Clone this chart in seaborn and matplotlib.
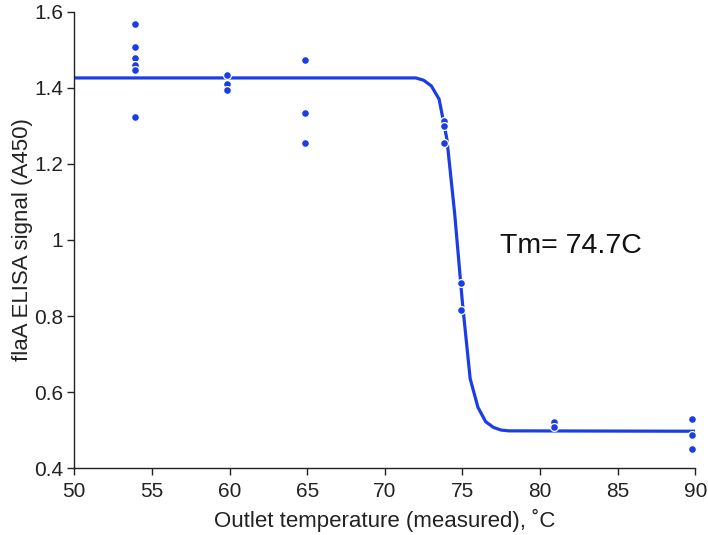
import numpy as np
import pandas as pd
import seaborn as sns
import matplotlib
matplotlib.use('Agg')
import matplotlib.pyplot as plt
from matplotlib.ticker import FuncFormatter

# measured points (outlet temperature, A450)
temp_pts = [53.9, 53.9, 53.9, 53.9, 53.9, 53.9,
            59.85, 59.85, 59.85,
            64.85, 64.85, 64.85,
            73.8, 73.8, 73.82,
            74.9, 74.9,
            80.9, 80.9,
            89.8, 89.8, 89.8]
signal_pts = [1.567, 1.507, 1.479, 1.460, 1.447, 1.322,
              1.434, 1.410, 1.394,
              1.473, 1.333, 1.254,
              1.314, 1.300, 1.254,
              0.888, 0.816,
              0.520, 0.509,
              0.530, 0.486, 0.451]

# fitted curve
fit_temp = [50, 72, 72.5, 73, 73.5, 74, 74.5, 75, 75.5, 76, 76.5, 77, 77.5, 78, 90]
fit_signal = [1.426, 1.426, 1.42, 1.405, 1.37, 1.265, 1.07, 0.835, 0.635,
              0.56, 0.522, 0.507, 0.500, 0.498, 0.497]

blue = '#1a3de6'

sns.set_style("ticks")
plt.rcParams['font.family'] = ['Liberation Sans', 'DejaVu Sans']

fig = plt.figure(figsize=(7.08, 5.35), dpi=100)
ax = fig.add_axes([0.105, 0.125, 0.877, 0.853])

df_fit = pd.DataFrame({'temp': fit_temp, 'signal': fit_signal})
df_pts = pd.DataFrame({'temp': temp_pts, 'signal': signal_pts})

sns.lineplot(data=df_fit, x='temp', y='signal', color=blue, linewidth=2.3,
             ax=ax, zorder=2)
sns.scatterplot(data=df_pts, x='temp', y='signal', color=blue, s=32,
                edgecolor='white', linewidth=0.9, ax=ax, zorder=3)

ax.set_xlim(50, 90)
ax.set_ylim(0.4, 1.6)
ax.set_xticks(np.arange(50, 91, 5))
ax.set_yticks([0.4, 0.6, 0.8, 1.0, 1.2, 1.4, 1.6])
ax.yaxis.set_major_formatter(FuncFormatter(lambda v, p: ('%g' % round(v, 2))))

sns.despine(ax=ax)
for s in ['left', 'bottom']:
    ax.spines[s].set_color('#222222')
    ax.spines[s].set_linewidth(1.0)
ax.tick_params(axis='both', labelsize=15, length=5, width=1.0,
               color='#222222', labelcolor='#222222')
ax.tick_params(axis='x', pad=5)
ax.tick_params(axis='y', pad=3)

ax.set_xlabel('Outlet temperature (measured), \u02daC', fontsize=16,
              color='#222222', labelpad=6)
ax.set_ylabel('flaA ELISA signal (A450)', fontsize=16, color='#222222',
              labelpad=1)

ax.text(77.4, 0.985, 'Tm= 74.7C', fontsize=20.5, color='#111111', va='center')

fig.savefig('out.png', dpi=100)
